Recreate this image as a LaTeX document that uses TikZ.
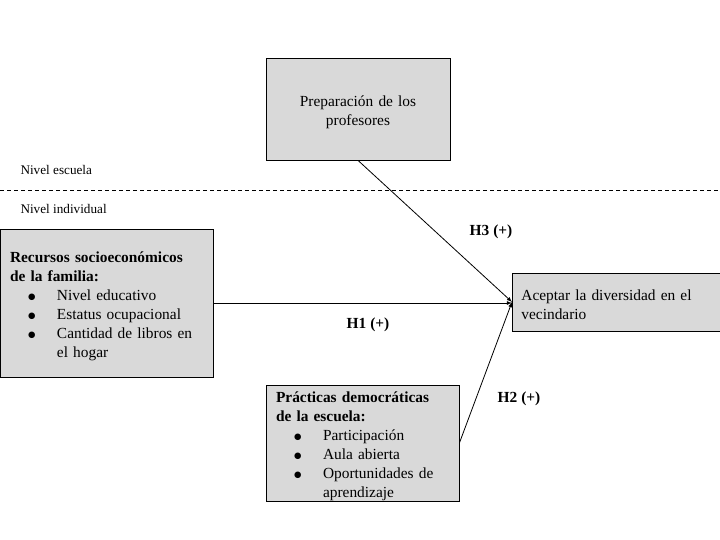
\documentclass[tikz,border=0pt]{standalone}
\usepackage{fontspec}
\setmainfont{Liberation Serif}
\newfontfamily\simbolos{DejaVu Sans}
\usepackage{tikz}
\usetikzlibrary{positioning, arrows}
\definecolor{cajagris}{HTML}{D9D9D9}
\newcommand{\vineta}[1]{\hspace*{18pt}\makebox[29pt][l]{\raisebox{0.5pt}{\simbolos\fontsize{8.5}{8.5}\selectfont ●}}#1}

\begin{document}
\begin{tikzpicture}[x=1pt, y=-1pt,
    font=\fontsize{15.4}{19}\selectfont,
    caja/.style={draw, line width=0.8pt, fill=cajagris, inner xsep=10pt, inner ysep=0pt, align=left,
        execute at end node={\endgraf\vspace*{-6pt}}},
    flecha/.style={-latex, line width=0.8pt},
    hipo/.style={font=\fontsize{15.4}{19}\selectfont\bfseries},
    nivel/.style={font=\fontsize{13.2}{15}\selectfont, anchor=west}
]
\useasboundingbox (0,0) rectangle (720,540);

\draw[dashed, dash pattern=on 4pt off 3pt, line width=0.6pt] (0,190) -- (720,190);
\node[nivel] (escuela) at (17,170) {Nivel escuela};
\node[nivel] (individual) at (17,209) {Nivel individual};

\node[caja, align=center, minimum width=184pt, minimum height=102pt, text width=164pt]
    (prep) at (358,109) {Preparación de los\\profesores};

\node[caja, minimum width=213pt, minimum height=148pt, text width=193pt]
    (rec) at (106.5,303) {\textbf{Recursos socioeconómicos}\\\textbf{de la familia:}\\
    \vineta{Nivel educativo}\\\vineta{Estatus ocupacional}\\
    \vineta{Cantidad de libros en}\\\hspace*{47pt}el hogar};

\node[caja, inner xsep=9pt, anchor=west, minimum width=212pt, minimum height=58pt, text width=194pt]
    (tgt) at (512,302) {Aceptar la diversidad en el\\vecindario};

\node[caja, minimum width=193pt, minimum height=116pt, text width=173pt]
    (prac) at (362.5,443) {\textbf{Prácticas democráticas}\\\textbf{de la escuela:}\\
    \vineta{Participación}\\\vineta{Aula abierta}\\
    \vineta{Oportunidades de}\\\hspace*{47pt}aprendizaje};

\draw[flecha] (rec.east) -- (rec.east -| tgt.west);
\draw[flecha] (prep.south) -- (tgt.west);
\draw[flecha] (prac.east) -- (tgt.west);

\node[hipo] (h1) at (368,325) {H1 (+)};
\node[hipo] (h3) at (491,232) {H3 (+)};
\node[hipo] (h2) at (519,399) {H2 (+)};
\end{tikzpicture}
\end{document}
